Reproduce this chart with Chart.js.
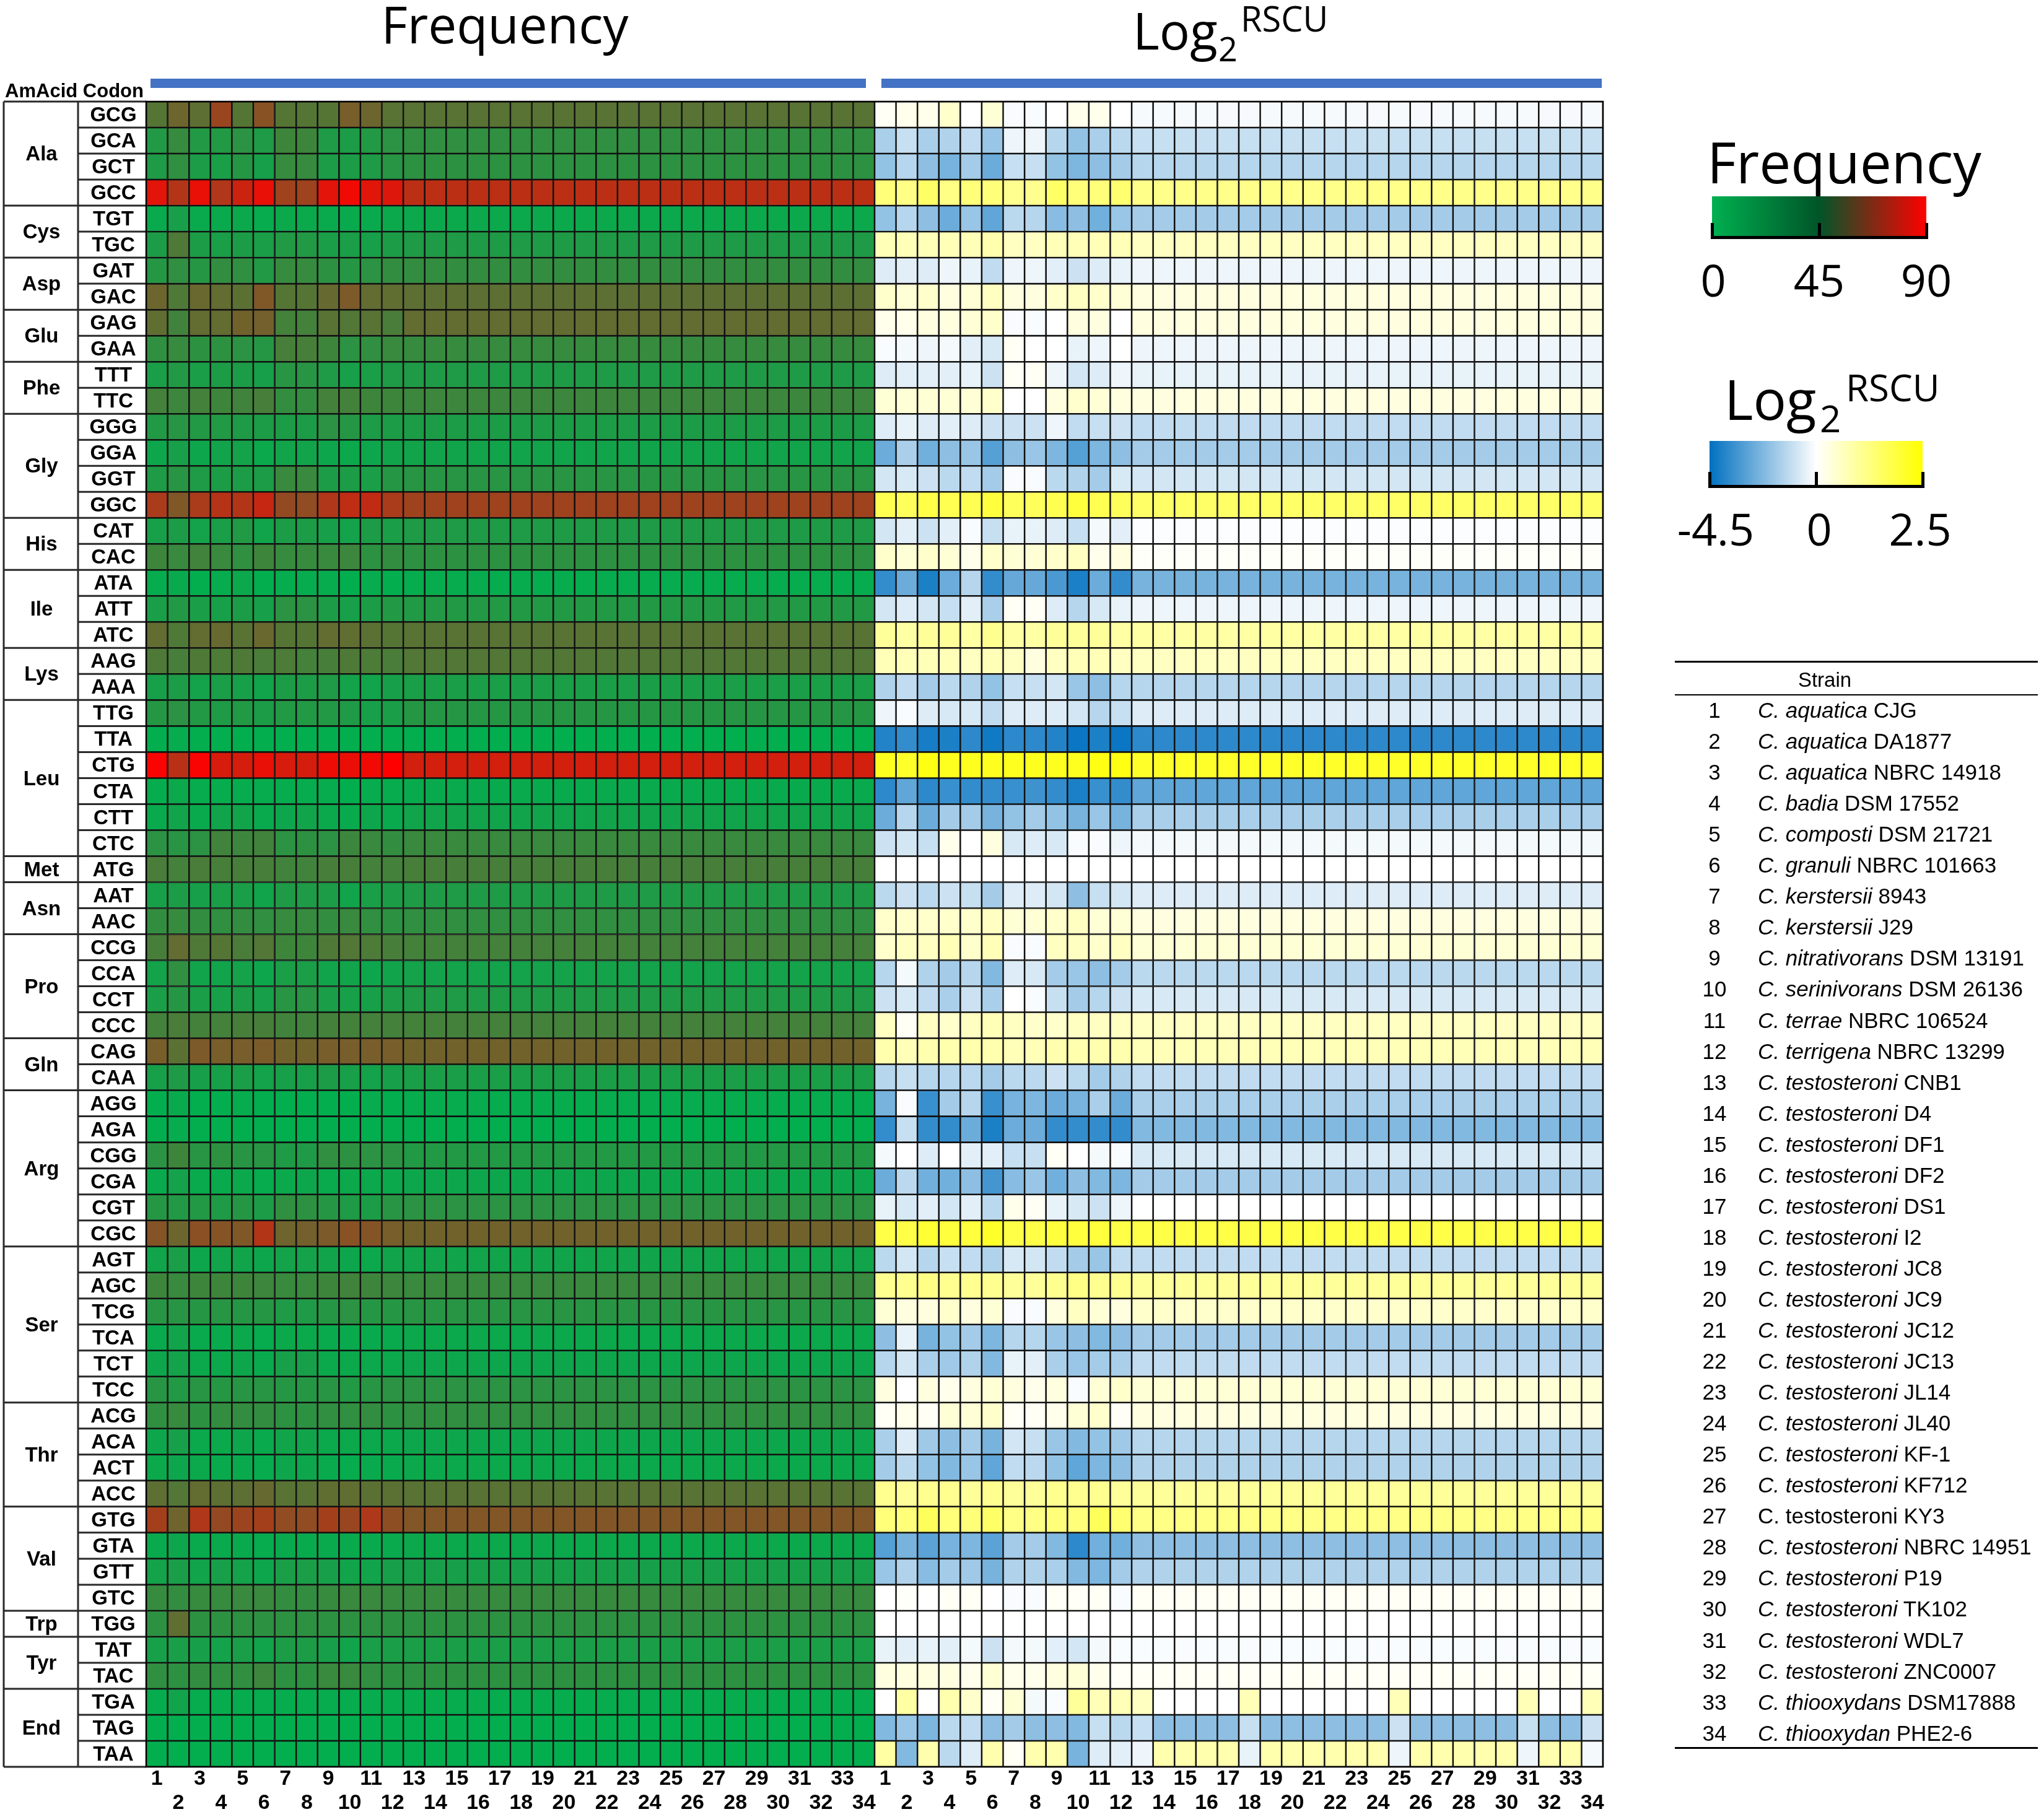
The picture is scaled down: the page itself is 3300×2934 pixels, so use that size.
<!DOCTYPE html>
<html><head><meta charset="utf-8">
<script src="https://cdn.jsdelivr.net/npm/chart.js"></script>
<style>
html,body{margin:0;padding:0;background:#fff;}
#page{position:relative;width:3300px;height:2934px;overflow:hidden;background:#fff;}
#wrap{position:absolute;left:0;top:0;width:2600px;height:2934px;}
#overlay{position:absolute;left:0;top:0;pointer-events:none;}
</style></head><body>
<div id="page">
<div id="wrap"><canvas id="c"></canvas></div>
<svg id="overlay" width="3300" height="2934" xmlns="http://www.w3.org/2000/svg"></svg>
</div>
<script>
// ---------------- DATA ----------------
const strainNumbers = [1,2,3,4,5,6,7,8,9,10,11,12,13,14,15,16,17,18,19,20,21,22,23,24,25,26,27,28,29,30,31,32,33,34];
const strainSpecies = ['C. aquatica','C. aquatica','C. aquatica','C. badia','C. composti','C. granuli','C. kerstersii','C. kerstersii','C. nitrativorans','C. serinivorans','C. terrae','C. terrigena','C. testosteroni','C. testosteroni','C. testosteroni','C. testosteroni','C. testosteroni','C. testosteroni','C. testosteroni','C. testosteroni','C. testosteroni','C. testosteroni','C. testosteroni','C. testosteroni','C. testosteroni','C. testosteroni','C. testosteroni','C. testosteroni','C. testosteroni','C. testosteroni','C. testosteroni','C. testosteroni','C. thiooxydans','C. thiooxydan'];
const strainIds = ['CJG','DA1877','NBRC 14918','DSM 17552','DSM 21721','NBRC 101663','8943','J29','DSM 13191','DSM 26136','NBRC 106524','NBRC 13299','CNB1','D4','DF1','DF2','DS1','I2','JC8','JC9','JC12','JC13','JL14','JL40','KF-1','KF712','KY3','NBRC 14951','P19','TK102','WDL7','ZNC0007','DSM17888','PHE2-6'];
const strainItalic = [1,1,1,1,1,1,1,1,1,1,1,1,1,1,1,1,1,1,1,1,1,1,1,1,1,1,0,1,1,1,1,1,1,1];

const aaNames = ['Ala','Cys','Asp','Glu','Phe','Gly','His','Ile','Lys','Leu','Met','Asn','Pro','Gln','Arg','Ser','Thr','Val','Trp','Tyr','End'];
const aaSizes = [4,2,2,2,2,4,2,3,2,6,1,2,4,2,6,6,4,4,1,2,3];
const codons = ['GCG','GCA','GCT','GCC','TGT','TGC','GAT','GAC','GAG','GAA','TTT','TTC','GGG','GGA','GGT','GGC','CAT','CAC','ATA','ATT','ATC','AAG','AAA','TTG','TTA','CTG','CTA','CTT','CTC','ATG','AAT','AAC','CCG','CCA','CCT','CCC','CAG','CAA','AGG','AGA','CGG','CGA','CGT','CGC','AGT','AGC','TCG','TCA','TCT','TCC','ACG','ACA','ACT','ACC','GTG','GTA','GTT','GTC','TGG','TAT','TAC','TGA','TAG','TAA'];

const freqLegendTicks = ['0','45','90'];
const rscuLegendTicks = ['-4.5','0','2.5'];
const freqRange = [0, 90];
const rscuRange = [-4.5, 2.5];

// Frequency (per codon, strains 1..34)
const fGCG = [30,38,33,54,30,48,30,30,30,42,38,31, 31,31,31,31,31,31,31,31,31,31,31, 31,31,31,31,31,31,31,31,31,31,31];
const fGCA = [12,19,12,12,15,11,22,22,11,10,12,15, 17,17,17,17,17,17,17,17,17,17,17, 17,17,17,17,17,17,17,17,17,17,17];
const fGCT = [11,17,10,9,13,8,19,19,10,10,11,14, 16,16,16,16,16,16,16,16,16,16,16, 16,16,16,16,16,16,16,16,16,16,16];
const fGCC = [80,63,82,62,72,82,56,56,80,85,79,78, 66,66,66,66,66,66,66,66,66,66,66, 66,66,66,66,66,66,66,66,66,66,66];
const fTGT = [3,8,3,3,4,2,4,4,3,3,3,4, 4,4,4,4,4,4,4,4,4,4,4, 4,4,4,4,4,4,4,4,4,4,4];
const fTGC = [10,28,10,9,10,9,12,12,9,9,8,10, 11,11,11,11,11,11,11,11,11,11,11, 11,11,11,11,11,11,11,11,11,11,11];
const fGAT = [13,17,13,18,17,12,19,19,16,13,15,18, 18,18,18,18,18,18,18,18,18,18,18, 18,18,18,18,18,18,18,18,18,18,18];
const fGAC = [38,28,37,35,32,45,30,30,36,44,35,34, 33,33,33,33,33,33,33,33,33,33,33, 33,33,33,33,33,33,33,33,33,33,33];
const fGAG = [34,23,35,35,40,41,24,24,31,29,31,26, 35,35,35,35,35,35,35,35,35,35,35, 35,35,35,35,35,35,35,35,35,35,35];
const fGAA = [17,19,16,16,15,13,25,25,22,15,17,20, 19,19,19,19,19,19,19,19,19,19,19, 19,19,19,19,19,19,19,19,19,19,19];
const fTTT = [9,12,9,10,10,8,14,14,11,8,9,11, 11,11,11,11,11,11,11,11,11,11,11, 11,11,11,11,11,11,11,11,11,11,11];
const fTTC = [24,21,24,22,23,25,18,18,24,24,22,22, 21,21,21,21,21,21,21,21,21,21,21, 21,21,21,21,21,21,21,21,21,21,21];
const fGGG = [12,14,12,12,11,10,10,10,15,13,10,10, 10,10,10,10,10,10,10,10,10,10,10, 10,10,10,10,10,10,10,10,10,10,10];
const fGGA = [5,8,5,6,7,4,6,6,5,4,5,6, 6,6,6,6,6,6,6,6,6,6,6, 6,6,6,6,6,6,6,6,6,6,6];
const fGGT = [11,14,11,10,10,10,20,20,10,10,9,13, 14,14,14,14,14,14,14,14,14,14,14, 14,14,14,14,14,14,14,14,14,14,14];
const fGGC = [60,45,60,64,63,70,52,51,62,67,68,60, 56,56,56,56,56,56,56,56,56,56,56, 56,56,56,56,56,56,56,56,56,56,56];
const fCAT = [8,10,7,9,12,6,10,10,8,7,10,9, 11,11,11,11,11,11,11,11,11,11,11, 11,11,11,11,11,11,11,11,11,11,11];
const fCAC = [22,20,23,20,17,22,19,19,20,21,16,18, 16,16,16,16,16,16,16,16,16,16,16, 16,16,16,16,16,16,16,16,16,16,16];
const fATA = [2,3,1,2,4,1,2,2,2,1,2,1, 2,2,2,2,2,2,2,2,2,2,2, 2,2,2,2,2,2,2,2,2,2,2];
const fATT = [9,12,9,8,10,8,15,15,10,8,10,12, 12,12,12,12,12,12,12,12,12,12,12, 12,12,12,12,12,12,12,12,12,12,12];
const fATC = [35,28,35,36,31,37,30,30,35,34,32,30, 31,31,31,31,31,31,31,31,31,31,31, 31,31,31,31,31,31,31,31,31,31,31];
const fAAG = [28,25,28,27,28,26,27,24,25,28,27,26, 29,29,29,29,29,29,29,29,29,29,29, 29,29,29,29,29,29,29,29,29,29,29];
const fAAA = [8,10,7,9,8,6,10,10,11,7,6,8, 9,9,9,9,9,9,9,9,9,9,9, 9,9,9,9,9,9,9,9,9,9,9];
const fTTG = [13,15,12,11,12,10,12,12,12,11,8,9, 13,13,13,13,13,13,13,13,13,13,13, 13,13,13,13,13,13,13,13,13,13,13];
const fTTA = [1,2,1,1,1,1,1,1,1,1,1,1, 1,1,1,1,1,1,1,1,1,1,1, 1,1,1,1,1,1,1,1,1,1,1];
const fCTG = [88,65,88,76,75,82,76,75,84,83,85,90, 74,74,74,74,74,74,74,74,74,74,74, 74,74,74,74,74,74,74,74,74,74,74];
const fCTA = [2,4,2,2,2,2,2,2,2,1,2,2, 3,3,3,3,3,3,3,3,3,3,3, 3,3,3,3,3,3,3,3,3,3,3];
const fCTT = [3,6,3,6,6,3,5,6,4,3,5,3, 6,6,6,6,6,6,6,6,6,6,6, 6,6,6,6,6,6,6,6,6,6,6];
const fCTC = [15,14,15,23,21,23,15,16,15,21,20,18, 20,20,20,20,20,20,20,20,20,20,20, 20,20,20,20,20,20,20,20,20,20,20];
const fATG = [26,24,26,25,25,25,23,23,25,25,24,24, 25,25,25,25,25,25,25,25,25,25,25, 25,25,25,25,25,25,25,25,25,25,25];
const fAAT = [8,10,8,9,9,6,11,11,10,6,9,10, 11,11,11,11,11,11,11,11,11,11,11, 11,11,11,11,11,11,11,11,11,11,11];
const fAAC = [18,19,18,17,18,17,19,19,18,20,17,16, 17,17,17,17,17,17,17,17,17,17,17, 17,17,17,17,17,17,17,17,17,17,17];
const fCCG = [25,35,28,30,26,29,22,22,28,29,27,25, 24,24,24,24,24,24,24,24,24,24,24, 24,24,24,24,24,24,24,24,24,24,24];
const fCCA = [7,17,6,6,7,5,9,9,6,6,5,6, 7,7,7,7,7,7,7,7,7,7,7, 7,7,7,7,7,7,7,7,7,7,7];
const fCCT = [9,13,9,8,10,8,14,14,9,8,8,10, 11,11,11,11,11,11,11,11,11,11,11, 11,11,11,11,11,11,11,11,11,11,11];
const fCCC = [24,26,24,24,25,25,23,23,24,24,24,24, 24,24,24,24,24,24,24,24,24,24,24, 24,24,24,24,24,24,24,24,24,24,24];
const fCAG = [42,32,44,42,42,43,40,40,42,42,42,42, 40,40,40,40,40,40,40,40,40,40,40, 40,40,40,40,40,40,40,40,40,40,40];
const fCAA = [8,11,8,8,9,7,8,8,10,8,7,8, 9,9,9,9,9,9,9,9,9,9,9, 9,9,9,9,9,9,9,9,9,9,9];
const fAGG = [1,3,1,1,2,1,1,1,1,1,2,1, 2,2,2,2,2,2,2,2,2,2,2, 2,2,2,2,2,2,2,2,2,2,2];
const fAGA = [1,2,1,1,1,1,1,1,1,1,1,1, 1,1,1,1,1,1,1,1,1,1,1, 1,1,1,1,1,1,1,1,1,1,1];
const fCGG = [15,22,14,16,14,14,11,11,17,16,15,15, 12,12,12,12,12,12,12,12,12,12,12, 12,12,12,12,12,12,12,12,12,12,12];
const fCGA = [3,7,3,3,4,2,4,5,3,4,4,4, 5,5,5,5,5,5,5,5,5,5,5, 5,5,5,5,5,5,5,5,5,5,5];
const fCGT = [13,12,12,11,13,10,17,16,13,11,10,14, 15,15,15,15,15,15,15,15,15,15,15, 15,15,15,15,15,15,15,15,15,15,15];
const fCGC = [47,38,49,47,45,63,39,41,44,48,47,42, 40,40,40,40,40,40,40,40,40,40,40, 40,40,40,40,40,40,40,40,40,40,40];
const fAGT = [6,9,5,6,6,5,7,7,6,5,4,6, 6,6,6,6,6,6,6,6,6,6,6, 6,6,6,6,6,6,6,6,6,6,6];
const fAGC = [22,20,22,22,22,21,20,20,22,23,22,21, 20,20,20,20,20,20,20,20,20,20,20, 20,20,20,20,20,20,20,20,20,20,20];
const fTCG = [14,14,13,14,13,13,11,11,13,15,13,13, 14,14,14,14,14,14,14,14,14,14,14, 14,14,14,14,14,14,14,14,14,14,14];
const fTCA = [3,6,3,3,4,2,4,4,3,3,3,3, 4,4,4,4,4,4,4,4,4,4,4, 4,4,4,4,4,4,4,4,4,4,4];
const fTCT = [5,7,4,4,5,3,8,8,4,4,4,4, 5,5,5,5,5,5,5,5,5,5,5, 5,5,5,5,5,5,5,5,5,5,5];
const fTCC = [14,12,14,13,14,14,13,13,14,12,14,15, 15,15,15,15,15,15,15,15,15,15,15, 15,15,15,15,15,15,15,15,15,15,15];
const fACG = [17,19,16,18,18,18,16,16,17,17,18,16, 17,17,17,17,17,17,17,17,17,17,17, 17,17,17,17,17,17,17,17,17,17,17];
const fACA = [5,8,4,4,5,3,6,6,4,4,4,4, 5,5,5,5,5,5,5,5,5,5,5, 5,5,5,5,5,5,5,5,5,5,5];
const fACT = [4,5,4,3,3,2,5,5,3,2,3,3, 4,4,4,4,4,4,4,4,4,4,4, 4,4,4,4,4,4,4,4,4,4,4];
const fACC = [33,29,35,33,33,36,31,31,34,34,32,32, 31,31,31,31,31,31,31,31,31,31,31, 31,31,31,31,31,31,31,31,31,31,31];
const fGTG = [58,39,62,52,55,58,51,51,58,54,61,50, 46,46,46,46,46,46,46,46,46,46,46, 46,46,46,46,46,46,46,46,46,46,46];
const fGTA = [3,5,3,3,3,2,3,3,3,3,3,3, 4,4,4,4,4,4,4,4,4,4,4, 4,4,4,4,4,4,4,4,4,4,4];
const fGTT = [7,9,6,8,7,5,9,9,8,6,6,8, 8,8,8,8,8,8,8,8,8,8,8, 8,8,8,8,8,8,8,8,8,8,8];
const fGTC = [19,18,19,19,20,20,18,18,19,20,20,19, 19,19,19,19,19,19,19,19,19,19,19, 19,19,19,19,19,19,19,19,19,19,19];
const fTGG = [16,34,16,16,16,16,16,16,16,16,16,16, 16,16,16,16,16,16,16,16,16,16,16, 16,16,16,16,16,16,16,16,16,16,16];
const fTAT = [8,9,8,7,9,6,10,10,8,6,9,9, 9,9,9,9,9,9,9,9,9,9,9, 9,9,9,9,9,9,9,9,9,9,9];
const fTAC = [17,16,18,17,17,21,16,16,20,20,17,16, 16,16,16,16,16,16,16,16,16,16,16, 16,16,16,16,16,16,16,16,16,16,16];
const fTGA = [2,6,2,2,2,2,2,2,2,2,2,2, 2,2,2,2,2,2,2,2,2,2,2, 2,2,2,2,2,2,2,2,2,2,2];
const fTAG = [1,1,1,1,1,1,1,1,1,1,1,1, 1,1,1,1,1,1,1,1,1,1,1, 1,1,1,1,1,1,1,1,1,1,1];
const fTAA = [1,1,1,1,1,1,1,1,1,1,1,1, 1,1,1,1,1,1,1,1,1,1,1, 1,1,1,1,1,1,1,1,1,1,1];

// Log2 RSCU (per codon, strains 1..34)
const rGCG = [0.1,0.2,0.2,0.5,0.0,0.4,-0.1,-0.1,0.0,0.2,0.2,0.0, -0.15,-0.15,-0.15,-0.15,-0.15,-0.15,-0.15,-0.15,-0.15,-0.15,-0.15, -0.15,-0.15,-0.15,-0.15,-0.15,-0.15,-0.15,-0.15,-0.15,-0.15,-0.15];
const rGCA = [-1.5,-1.0,-1.5,-1.4,-1.1,-1.8,-0.3,-0.3,-1.3,-1.9,-1.5,-1.2, -1.0,-1.0,-1.0,-1.0,-1.0,-1.0,-1.0,-1.0,-1.0,-1.0,-1.0, -1.0,-1.0,-1.0,-1.0,-1.0,-1.0,-1.0,-1.0,-1.0,-1.0,-1.0];
const rGCT = [-1.9,-1.3,-2.0,-2.4,-1.6,-2.6,-1.0,-1.0,-1.9,-2.3,-2.0,-1.6, -1.3,-1.3,-1.3,-1.3,-1.3,-1.3,-1.3,-1.3,-1.3,-1.3,-1.3, -1.3,-1.3,-1.3,-1.3,-1.3,-1.3,-1.3,-1.3,-1.3,-1.3,-1.3];
const rGCC = [1.3,1.2,1.5,1.2,1.3,1.3,1.1,1.1,1.5,1.3,1.3,1.4, 1.15,1.15,1.15,1.15,1.15,1.15,1.15,1.15,1.15,1.15,1.15, 1.15,1.15,1.15,1.15,1.15,1.15,1.15,1.15,1.15,1.15,1.15];
const rTGT = [-1.9,-1.3,-2.0,-2.6,-1.8,-2.8,-1.2,-1.3,-2.1,-2.0,-2.5,-1.8, -1.6,-1.6,-1.6,-1.6,-1.6,-1.6,-1.6,-1.6,-1.6,-1.6,-1.6, -1.6,-1.6,-1.6,-1.6,-1.6,-1.6,-1.6,-1.6,-1.6,-1.6,-1.6];
const rTGC = [0.7,0.7,0.7,0.7,0.7,0.8,0.6,0.6,0.7,0.7,0.7,0.7, 0.6,0.6,0.6,0.6,0.6,0.6,0.6,0.6,0.6,0.6,0.6, 0.6,0.6,0.6,0.6,0.6,0.6,0.6,0.6,0.6,0.6,0.6];
const rGAT = [-0.6,-0.5,-0.6,-0.3,-0.4,-1.1,-0.3,-0.3,-0.5,-0.9,-0.6,-0.4, -0.3,-0.3,-0.3,-0.3,-0.3,-0.3,-0.3,-0.3,-0.3,-0.3,-0.3, -0.3,-0.3,-0.3,-0.3,-0.3,-0.3,-0.3,-0.3,-0.3,-0.3,-0.3];
const rGAC = [0.5,0.4,0.5,0.3,0.4,0.6,0.3,0.3,0.5,0.6,0.5,0.4, 0.3,0.3,0.3,0.3,0.3,0.3,0.3,0.3,0.3,0.3,0.3, 0.3,0.3,0.3,0.3,0.3,0.3,0.3,0.3,0.3,0.3,0.3];
const rGAG = [0.2,0.2,0.3,0.3,0.4,0.5,-0.1,-0.1,0.0,0.3,0.3,0.0, 0.3,0.3,0.3,0.3,0.3,0.3,0.3,0.3,0.3,0.3,0.3, 0.3,0.3,0.3,0.3,0.3,0.3,0.3,0.3,0.3,0.3,0.3];
const rGAA = [-0.1,-0.2,-0.3,-0.2,-0.5,-0.7,0.1,0.0,0.0,-0.4,-0.3,0.0, -0.3,-0.3,-0.3,-0.3,-0.3,-0.3,-0.3,-0.3,-0.3,-0.3,-0.3, -0.3,-0.3,-0.3,-0.3,-0.3,-0.3,-0.3,-0.3,-0.3,-0.3,-0.3];
const rTTT = [-0.6,-0.5,-0.5,-0.5,-0.4,-0.9,0.1,0.1,-0.3,-0.8,-0.6,-0.3, -0.4,-0.4,-0.4,-0.4,-0.4,-0.4,-0.4,-0.4,-0.4,-0.4,-0.4, -0.4,-0.4,-0.4,-0.4,-0.4,-0.4,-0.4,-0.4,-0.4,-0.4,-0.4];
const rTTC = [0.4,0.4,0.4,0.4,0.4,0.5,0.0,0.0,0.3,0.5,0.4,0.3, 0.3,0.3,0.3,0.3,0.3,0.3,0.3,0.3,0.3,0.3,0.3, 0.3,0.3,0.3,0.3,0.3,0.3,0.3,0.3,0.3,0.3,0.3];
const rGGG = [-0.6,-0.4,-0.6,-0.5,-0.6,-0.9,-0.9,-0.9,-0.3,-1.1,-1.0,-0.9, -1.1,-1.1,-1.1,-1.1,-1.1,-1.1,-1.1,-1.1,-1.1,-1.1,-1.1, -1.1,-1.1,-1.1,-1.1,-1.1,-1.1,-1.1,-1.1,-1.1,-1.1,-1.1];
const rGGA = [-2.6,-1.5,-2.5,-2.0,-1.8,-3.0,-2.0,-1.8,-2.3,-3.0,-2.3,-2.0, -1.6,-1.6,-1.6,-1.6,-1.6,-1.6,-1.6,-1.6,-1.6,-1.6,-1.6, -1.6,-1.6,-1.6,-1.6,-1.6,-1.6,-1.6,-1.6,-1.6,-1.6,-1.6];
const rGGT = [-0.8,-0.7,-0.9,-1.2,-1.1,-1.6,-0.1,-0.1,-1.2,-1.4,-1.6,-0.7, -0.8,-0.8,-0.8,-0.8,-0.8,-0.8,-0.8,-0.8,-0.8,-0.8,-0.8, -0.8,-0.8,-0.8,-0.8,-0.8,-0.8,-0.8,-0.8,-0.8,-0.8,-0.8];
const rGGC = [1.7,1.6,1.8,1.7,1.7,1.9,1.6,1.6,1.7,1.9,1.7,1.6, 1.5,1.5,1.5,1.5,1.5,1.5,1.5,1.5,1.5,1.5,1.5, 1.5,1.5,1.5,1.5,1.5,1.5,1.5,1.5,1.5,1.5,1.5];
const rCAT = [-0.8,-0.5,-0.9,-0.5,-0.1,-1.0,-0.4,-0.4,-0.6,-1.0,-0.2,-0.5, -0.05,-0.05,-0.05,-0.05,-0.05,-0.05,-0.05,-0.05,-0.05,-0.05,-0.05, -0.05,-0.05,-0.05,-0.05,-0.05,-0.05,-0.05,-0.05,-0.05,-0.05,-0.05];
const rCAC = [0.5,0.4,0.5,0.4,0.2,0.5,0.4,0.4,0.5,0.6,0.2,0.3, 0.05,0.05,0.05,0.05,0.05,0.05,0.05,0.05,0.05,0.05,0.05, 0.05,0.05,0.05,0.05,0.05,0.05,0.05,0.05,0.05,0.05,0.05];
const rATA = [-3.6,-2.6,-4.0,-2.6,-1.3,-3.6,-2.7,-2.7,-3.2,-4.0,-2.6,-3.6, -2.4,-2.4,-2.4,-2.4,-2.4,-2.4,-2.4,-2.4,-2.4,-2.4,-2.4, -2.4,-2.4,-2.4,-2.4,-2.4,-2.4,-2.4,-2.4,-2.4,-2.4,-2.4];
const rATT = [-0.8,-0.6,-0.8,-1.0,-0.5,-1.5,0.1,0.1,-0.6,-1.3,-0.7,-0.4, -0.3,-0.3,-0.3,-0.3,-0.3,-0.3,-0.3,-0.3,-0.3,-0.3,-0.3, -0.3,-0.3,-0.3,-0.3,-0.3,-0.3,-0.3,-0.3,-0.3,-0.3,-0.3];
const rATC = [1.0,0.9,1.0,1.0,0.9,1.1,0.9,0.9,1.0,1.0,1.0,0.9, 0.9,0.9,0.9,0.9,0.9,0.9,0.9,0.9,0.9,0.9,0.9, 0.9,0.9,0.9,0.9,0.9,0.9,0.9,0.9,0.9,0.9,0.9];
const rAAG = [0.7,0.7,0.7,0.7,0.6,0.7,0.6,0.3,0.6,0.7,0.7,0.6, 0.6,0.6,0.6,0.6,0.6,0.6,0.6,0.6,0.6,0.6,0.6, 0.6,0.6,0.6,0.6,0.6,0.6,0.6,0.6,0.6,0.6,0.6];
const rAAA = [-1.4,-1.1,-1.6,-1.2,-1.4,-1.9,-1.0,-1.0,-0.8,-1.8,-2.0,-1.3, -1.3,-1.3,-1.3,-1.3,-1.3,-1.3,-1.3,-1.3,-1.3,-1.3,-1.3, -1.3,-1.3,-1.3,-1.3,-1.3,-1.3,-1.3,-1.3,-1.3,-1.3,-1.3];
const rTTG = [-0.3,-0.1,-0.6,-0.7,-0.7,-1.1,-0.6,-0.6,-0.6,-0.8,-1.3,-1.0, -0.6,-0.6,-0.6,-0.6,-0.6,-0.6,-0.6,-0.6,-0.6,-0.6,-0.6, -0.6,-0.6,-0.6,-0.6,-0.6,-0.6,-0.6,-0.6,-0.6,-0.6,-0.6];
const rTTA = [-3.9,-3.6,-4.1,-4.0,-3.7,-4.2,-3.7,-3.7,-3.9,-4.3,-4.0,-4.3, -3.7,-3.7,-3.7,-3.7,-3.7,-3.7,-3.7,-3.7,-3.7,-3.7,-3.7, -3.7,-3.7,-3.7,-3.7,-3.7,-3.7,-3.7,-3.7,-3.7,-3.7,-3.7];
const rCTG = [2.2,2.1,2.3,2.2,2.2,2.2,2.2,2.2,2.2,2.2,2.3,2.3, 2.1,2.1,2.1,2.1,2.1,2.1,2.1,2.1,2.1,2.1,2.1, 2.1,2.1,2.1,2.1,2.1,2.1,2.1,2.1,2.1,2.1,2.1];
const rCTA = [-3.7,-2.8,-3.7,-3.5,-3.6,-3.6,-3.5,-3.4,-3.6,-4.0,-3.5,-3.6, -2.8,-2.8,-2.8,-2.8,-2.8,-2.8,-2.8,-2.8,-2.8,-2.8,-2.8, -2.8,-2.8,-2.8,-2.8,-2.8,-2.8,-2.8,-2.8,-2.8,-2.8,-2.8];
const rCTT = [-2.6,-1.3,-2.6,-1.6,-1.6,-2.4,-1.9,-1.6,-1.9,-2.4,-1.8,-2.4, -1.5,-1.5,-1.5,-1.5,-1.5,-1.5,-1.5,-1.5,-1.5,-1.5,-1.5, -1.5,-1.5,-1.5,-1.5,-1.5,-1.5,-1.5,-1.5,-1.5,-1.5,-1.5];
const rCTC = [-0.9,-0.8,-1.0,0.2,0.0,0.3,-0.7,-0.6,-0.7,-0.1,-0.1,-0.3, -0.2,-0.2,-0.2,-0.2,-0.2,-0.2,-0.2,-0.2,-0.2,-0.2,-0.2, -0.2,-0.2,-0.2,-0.2,-0.2,-0.2,-0.2,-0.2,-0.2,-0.2,-0.2];
const rATG = [0,0,0,0,0,0,0,0,0,0,0,0, 0,0,0,0,0,0,0,0,0,0,0, 0,0,0,0,0,0,0,0,0,0,0];
const rAAT = [-1.2,-0.9,-1.2,-0.9,-1.0,-1.6,-0.6,-0.6,-0.8,-2.0,-1.0,-0.8, -0.6,-0.6,-0.6,-0.6,-0.6,-0.6,-0.6,-0.6,-0.6,-0.6,-0.6, -0.6,-0.6,-0.6,-0.6,-0.6,-0.6,-0.6,-0.6,-0.6,-0.6,-0.6];
const rAAC = [0.5,0.5,0.5,0.5,0.5,0.6,0.4,0.4,0.5,0.6,0.4,0.4, 0.3,0.3,0.3,0.3,0.3,0.3,0.3,0.3,0.3,0.3,0.3, 0.3,0.3,0.3,0.3,0.3,0.3,0.3,0.3,0.3,0.3,0.3];
const rCCG = [0.5,0.6,0.6,0.7,0.5,0.7,-0.1,-0.1,0.6,0.6,0.5,0.6, 0.4,0.4,0.4,0.4,0.4,0.4,0.4,0.4,0.4,0.4,0.4, 0.4,0.4,0.4,0.4,0.4,0.4,0.4,0.4,0.4,0.4,0.4];
const rCCA = [-1.3,-0.2,-1.4,-1.6,-1.3,-2.2,-0.6,-0.7,-1.6,-1.8,-2.0,-1.6, -1.2,-1.2,-1.2,-1.2,-1.2,-1.2,-1.2,-1.2,-1.2,-1.2,-1.2, -1.2,-1.2,-1.2,-1.2,-1.2,-1.2,-1.2,-1.2,-1.2,-1.2,-1.2];
const rCCT = [-0.9,-0.7,-1.1,-1.5,-0.9,-1.5,0.0,-0.1,-1.0,-1.6,-1.3,-0.9, -0.7,-0.7,-0.7,-0.7,-0.7,-0.7,-0.7,-0.7,-0.7,-0.7,-0.7, -0.7,-0.7,-0.7,-0.7,-0.7,-0.7,-0.7,-0.7,-0.7,-0.7,-0.7];
const rCCC = [0.6,0.1,0.6,0.5,0.6,0.7,0.6,0.5,0.5,0.6,0.6,0.6, 0.6,0.6,0.6,0.6,0.6,0.6,0.6,0.6,0.6,0.6,0.6, 0.6,0.6,0.6,0.6,0.6,0.6,0.6,0.6,0.6,0.6,0.6];
const rCAG = [0.8,0.7,0.8,0.8,0.8,0.8,0.7,0.7,0.8,0.8,0.8,0.8, 0.7,0.7,0.7,0.7,0.7,0.7,0.7,0.7,0.7,0.7,0.7, 0.7,0.7,0.7,0.7,0.7,0.7,0.7,0.7,0.7,0.7,0.7];
const rCAA = [-1.3,-1.0,-1.3,-1.3,-1.2,-1.6,-1.2,-1.2,-0.9,-1.2,-1.6,-1.4, -1.1,-1.1,-1.1,-1.1,-1.1,-1.1,-1.1,-1.1,-1.1,-1.1,-1.1, -1.1,-1.1,-1.1,-1.1,-1.1,-1.1,-1.1,-1.1,-1.1,-1.1,-1.1];
const rAGG = [-2.4,-0.1,-3.5,-1.6,-1.3,-3.5,-2.4,-2.3,-2.6,-2.4,-1.5,-2.6, -1.5,-1.5,-1.5,-1.5,-1.5,-1.5,-1.5,-1.5,-1.5,-1.5,-1.5, -1.5,-1.5,-1.5,-1.5,-1.5,-1.5,-1.5,-1.5,-1.5,-1.5,-1.5];
const rAGA = [-3.6,-1.0,-3.6,-3.6,-2.6,-4.0,-2.6,-2.6,-3.6,-3.6,-3.6,-3.6, -2.2,-2.2,-2.2,-2.2,-2.2,-2.2,-2.2,-2.2,-2.2,-2.2,-2.2, -2.2,-2.2,-2.2,-2.2,-2.2,-2.2,-2.2,-2.2,-2.2,-2.2,-2.2];
const rCGG = [-0.2,0.0,-0.6,0.0,-0.5,-0.5,-1.0,-1.0,0.1,0.0,-0.2,-0.1, -0.7,-0.7,-0.7,-0.7,-0.7,-0.7,-0.7,-0.7,-0.7,-0.7,-0.7, -0.7,-0.7,-0.7,-0.7,-0.7,-0.7,-0.7,-0.7,-0.7,-0.7,-0.7];
const rCGA = [-2.6,-1.2,-2.5,-2.5,-2.0,-3.3,-2.1,-1.8,-2.5,-2.0,-2.2,-2.3, -1.6,-1.6,-1.6,-1.6,-1.6,-1.6,-1.6,-1.6,-1.6,-1.6,-1.6, -1.6,-1.6,-1.6,-1.6,-1.6,-1.6,-1.6,-1.6,-1.6,-1.6,-1.6];
const rCGT = [-0.4,-0.7,-0.5,-0.8,-0.5,-1.2,0.2,0.1,-0.4,-0.7,-0.9,-0.3, 0,0,0,0,0,0,0,0,0,0,0, 0,0,0,0,0,0,0,0,0,0,0];
const rCGC = [1.8,1.8,2.0,1.9,1.9,2.1,1.8,1.8,1.9,1.9,1.9,1.8, 1.8,1.8,1.8,1.8,1.8,1.8,1.8,1.8,1.8,1.8,1.8, 1.8,1.8,1.8,1.8,1.8,1.8,1.8,1.8,1.8,1.8,1.8];
const rAGT = [-1.2,-0.8,-1.3,-1.0,-1.1,-1.4,-0.7,-0.8,-1.1,-1.6,-1.8,-1.1, -1.1,-1.1,-1.1,-1.1,-1.1,-1.1,-1.1,-1.1,-1.1,-1.1,-1.1, -1.1,-1.1,-1.1,-1.1,-1.1,-1.1,-1.1,-1.1,-1.1,-1.1,-1.1];
const rAGC = [1.1,1.1,1.2,1.1,1.1,1.1,1.0,1.0,1.1,1.2,1.1,1.1, 1.0,1.0,1.0,1.0,1.0,1.0,1.0,1.0,1.0,1.0,1.0, 1.0,1.0,1.0,1.0,1.0,1.0,1.0,1.0,1.0,1.0,1.0];
const rTCG = [0.4,0.3,0.3,0.5,0.3,0.4,-0.1,-0.1,0.3,0.6,0.4,0.3, 0.5,0.5,0.5,0.5,0.5,0.5,0.5,0.5,0.5,0.5,0.5, 0.5,0.5,0.5,0.5,0.5,0.5,0.5,0.5,0.5,0.5,0.5];
const rTCA = [-2.0,-0.4,-2.4,-1.9,-1.6,-2.3,-1.3,-1.3,-1.8,-2.0,-2.2,-2.0, -1.6,-1.6,-1.6,-1.6,-1.6,-1.6,-1.6,-1.6,-1.6,-1.6,-1.6, -1.6,-1.6,-1.6,-1.6,-1.6,-1.6,-1.6,-1.6,-1.6,-1.6,-1.6];
const rTCT = [-1.3,-0.8,-1.5,-1.7,-1.4,-2.2,-0.4,-0.5,-1.5,-1.8,-1.6,-1.5, -1.1,-1.1,-1.1,-1.1,-1.1,-1.1,-1.1,-1.1,-1.1,-1.1,-1.1, -1.1,-1.1,-1.1,-1.1,-1.1,-1.1,-1.1,-1.1,-1.1,-1.1,-1.1];
const rTCC = [0.3,0.0,0.3,0.2,0.3,0.4,0.3,0.2,0.3,-0.1,0.4,0.5, 0.4,0.4,0.4,0.4,0.4,0.4,0.4,0.4,0.4,0.4,0.4, 0.4,0.4,0.4,0.4,0.4,0.4,0.4,0.4,0.4,0.4,0.4];
const rACG = [0.1,0.2,0.1,0.4,0.4,0.5,0.1,0.1,0.2,0.4,0.5,0.1, 0.3,0.3,0.3,0.3,0.3,0.3,0.3,0.3,0.3,0.3,0.3, 0.3,0.3,0.3,0.3,0.3,0.3,0.3,0.3,0.3,0.3,0.3];
const rACA = [-1.5,-0.6,-1.7,-2.0,-1.6,-2.4,-0.8,-1.0,-1.8,-2.2,-1.9,-1.7, -1.3,-1.3,-1.3,-1.3,-1.3,-1.3,-1.3,-1.3,-1.3,-1.3,-1.3, -1.3,-1.3,-1.3,-1.3,-1.3,-1.3,-1.3,-1.3,-1.3,-1.3,-1.3];
const rACT = [-1.6,-1.2,-1.9,-2.2,-1.8,-2.8,-1.1,-1.2,-1.9,-2.8,-2.3,-2.0, -1.4,-1.4,-1.4,-1.4,-1.4,-1.4,-1.4,-1.4,-1.4,-1.4,-1.4, -1.4,-1.4,-1.4,-1.4,-1.4,-1.4,-1.4,-1.4,-1.4,-1.4,-1.4];
const rACC = [1.1,1.0,1.1,1.1,1.0,1.1,1.0,1.0,1.1,1.1,1.1,1.0, 1.0,1.0,1.0,1.0,1.0,1.0,1.0,1.0,1.0,1.0,1.0, 1.0,1.0,1.0,1.0,1.0,1.0,1.0,1.0,1.0,1.0,1.0];
const rGTG = [1.3,1.3,1.6,1.3,1.3,1.5,1.2,1.2,1.3,1.3,1.6,1.4, 1.2,1.2,1.2,1.2,1.2,1.2,1.2,1.2,1.2,1.2,1.2, 1.2,1.2,1.2,1.2,1.2,1.2,1.2,1.2,1.2,1.2,1.2];
const rGTA = [-3.0,-2.4,-2.9,-2.4,-2.3,-2.9,-1.6,-1.6,-2.2,-3.7,-2.5,-2.5, -2.0,-2.0,-2.0,-2.0,-2.0,-2.0,-2.0,-2.0,-2.0,-2.0,-2.0, -2.0,-2.0,-2.0,-2.0,-2.0,-2.0,-2.0,-2.0,-2.0,-2.0,-2.0];
const rGTT = [-1.8,-1.4,-2.1,-1.6,-1.7,-2.4,-1.4,-1.4,-1.5,-2.2,-2.3,-1.6, -1.4,-1.4,-1.4,-1.4,-1.4,-1.4,-1.4,-1.4,-1.4,-1.4,-1.4, -1.4,-1.4,-1.4,-1.4,-1.4,-1.4,-1.4,-1.4,-1.4,-1.4,-1.4];
const rGTC = [0.0,0.05,0.0,0.1,0.1,0.0,-0.1,-0.1,0.1,0.1,0.1,-0.1, 0.1,0.1,0.1,0.1,0.1,0.1,0.1,0.1,0.1,0.1,0.1, 0.1,0.1,0.1,0.1,0.1,0.1,0.1,0.1,0.1,0.1,0.1];
const rTGG = [0,0,0,0,0,0,0,0,0,0,0,0, 0,0,0,0,0,0,0,0,0,0,0, 0,0,0,0,0,0,0,0,0,0,0];
const rTAT = [-0.4,-0.5,-0.4,-0.5,-0.2,-0.9,-0.2,-0.2,-0.5,-0.8,-0.2,-0.1, -0.1,-0.1,-0.1,-0.1,-0.1,-0.1,-0.1,-0.1,-0.1,-0.1,-0.1, -0.1,-0.1,-0.1,-0.1,-0.1,-0.1,-0.1,-0.1,-0.1,-0.1,-0.1];
const rTAC = [0.3,0.3,0.3,0.3,0.2,0.4,0.2,0.2,0.3,0.4,0.2,0.1, 0.1,0.1,0.1,0.1,0.1,0.1,0.1,0.1,0.1,0.1,0.1, 0.1,0.1,0.1,0.1,0.1,0.1,0.1,0.1,0.1,0.1,0.1];
const rTGA = [0,0.9,0,0.8,0.5,0.1,0.4,-0.2,-0.1,1.0,0.7,0.7, 0.6,0,0,0,0,0.7,0,0,0,0,0, 0,0.7,0,0,0,0,0,0.7,0,0,0.7];
const rTAG = [-2.2,-1.8,-2.3,-1.2,-1.1,-2.0,-1.6,-2.0,-2.0,-2.2,-1.0,-1.2, -1.0,-2.0,-2.0,-2.0,-2.0,-1.0,-2.0,-2.0,-2.0,-2.0,-2.0, -2.0,-0.9,-2.0,-2.0,-2.0,-2.0,-2.0,-1.0,-2.0,-2.0,-0.9];
const rTAA = [0.9,-2.2,0.8,-1.2,-0.6,0.8,0.1,0.8,0.8,-2.4,-0.6,-0.5, -0.3,0.8,0.8,0.8,0.8,-0.4,0.8,0.8,0.8,0.8,0.8, 0.8,-0.3,0.8,0.8,0.8,0.8,0.8,-0.3,0.8,0.8,-0.2];

const freqRows = [fGCG,fGCA,fGCT,fGCC,fTGT,fTGC,fGAT,fGAC,fGAG,fGAA,fTTT,fTTC,fGGG,fGGA,fGGT,fGGC,fCAT,fCAC,fATA,fATT,fATC,fAAG,fAAA,fTTG,fTTA,fCTG,fCTA,fCTT,fCTC,fATG,fAAT,fAAC,fCCG,fCCA,fCCT,fCCC,fCAG,fCAA,fAGG,fAGA,fCGG,fCGA,fCGT,fCGC,fAGT,fAGC,fTCG,fTCA,fTCT,fTCC,fACG,fACA,fACT,fACC,fGTG,fGTA,fGTT,fGTC,fTGG,fTAT,fTAC,fTGA,fTAG,fTAA];
const rscuRows = [rGCG,rGCA,rGCT,rGCC,rTGT,rTGC,rGAT,rGAC,rGAG,rGAA,rTTT,rTTC,rGGG,rGGA,rGGT,rGGC,rCAT,rCAC,rATA,rATT,rATC,rAAG,rAAA,rTTG,rTTA,rCTG,rCTA,rCTT,rCTC,rATG,rAAT,rAAC,rCCG,rCCA,rCCT,rCCC,rCAG,rCAA,rAGG,rAGA,rCGG,rCGA,rCGT,rCGC,rAGT,rAGC,rTCG,rTCA,rTCT,rTCC,rACG,rACA,rACT,rACC,rGTG,rGTA,rGTT,rGTC,rTGG,rTAT,rTAC,rTGA,rTAG,rTAA];

// ---------------- COLOUR SCALES ----------------
function mix(a, b, t) { return a.map((v, i) => Math.round(v + (b[i] - v) * t)); }
function rgb(c) { return 'rgb(' + c.join(',') + ')'; }
const FREQ_LOW = [0,176,80], FREQ_HIGH = [255,0,0];
function freqColor(v) {
  const t = Math.max(0, Math.min(1, (v - freqRange[0]) / (freqRange[1] - freqRange[0])));
  return rgb(mix(FREQ_LOW, FREQ_HIGH, t));
}
const RSCU_LOW = [0,112,192], RSCU_MID = [255,255,255], RSCU_HIGH = [255,255,0];
function rscuColor(v) {
  if (v < 0) return rgb(mix(RSCU_MID, RSCU_LOW, Math.min(1, v / rscuRange[0])));
  return rgb(mix(RSCU_MID, RSCU_HIGH, Math.min(1, v / rscuRange[1])));
}

// ---------------- LABEL FONT ----------------
const LABEL_FAMILY = '"Liberation Sans", Arial, sans-serif';
const LABEL_SIZE = 33;
const labelCss = 'bold ' + LABEL_SIZE + 'px ' + LABEL_FAMILY;
const measureCtx = document.createElement('canvas').getContext('2d');
measureCtx.font = labelCss;
const widestCodon = Math.max(...codons.map(c => measureCtx.measureText(c).width));
const CODON_CENTER_X = 183, CODON_AXIS_RIGHT = 236;

// ---------------- CHART ----------------
const xLabels = strainNumbers.concat(strainNumbers).map(n => (n % 2 ? String(n) : ['', String(n)]));
const datasets = codons.map((codon, r) => ({
  label: codon,
  data: xLabels.map(() => [r, r + 1]),
  backgroundColor: freqRows[r].map(freqColor).concat(rscuRows[r].map(rscuColor)),
  borderColor: '#111',
  borderWidth: 1.6,
  borderSkipped: false,
  grouped: false,
  barPercentage: 1,
  categoryPercentage: 1
}));

const tickFont = {family: '"Liberation Sans", Arial, sans-serif', size: 34, weight: 'bold', lineHeight: 1.15};
const codonFont = {family: LABEL_FAMILY, size: LABEL_SIZE, weight: 'bold', lineHeight: 1.1};

const aaTablePlugin = {
  id: 'aaTable',
  afterDraw(chart) {
    const {ctx, chartArea: a, scales: {y}} = chart;
    const xL = 6, xM = 126, xR = a.left;
    ctx.save();
    ctx.strokeStyle = '#2a2a2a';
    ctx.lineWidth = 3;
    ctx.beginPath();
    for (let r = 0; r <= codons.length; r++) {
      const py = y.getPixelForValue(r);
      ctx.moveTo(xM, py); ctx.lineTo(xR, py);
    }
    let s = 0;
    ctx.moveTo(xL, y.getPixelForValue(0)); ctx.lineTo(xM, y.getPixelForValue(0));
    aaSizes.forEach(n => { s += n; const py = y.getPixelForValue(s); ctx.moveTo(xL, py); ctx.lineTo(xM, py); });
    ctx.moveTo(xL, y.getPixelForValue(0)); ctx.lineTo(xL, y.getPixelForValue(codons.length));
    ctx.moveTo(xM, y.getPixelForValue(0)); ctx.lineTo(xM, y.getPixelForValue(codons.length));
    ctx.stroke();
    ctx.fillStyle = '#000';
    ctx.font = labelCss;
    ctx.textAlign = 'center';
    ctx.textBaseline = 'middle';
    s = 0;
    aaNames.forEach((name, g) => {
      ctx.fillText(name, 67, y.getPixelForValue(s + aaSizes[g] / 2) + 2);
      s += aaSizes[g];
    });
    ctx.strokeStyle = '#000';
    ctx.lineWidth = 2.5;
    ctx.strokeRect(a.left, a.top, a.right - a.left, a.bottom - a.top);
    ctx.restore();
  }
};

new Chart(document.getElementById('c'), {
  type: 'bar',
  data: {labels: xLabels, datasets},
  options: {
    responsive: true,
    maintainAspectRatio: false,
    animation: false,
    events: [],
    layout: {padding: {left: 126, right: 12, top: 164, bottom: 0}},
    plugins: {legend: {display: false}, tooltip: {enabled: false}, title: {display: false}},
    scales: {
      x: {
        type: 'category', offset: true,
        grid: {display: false, drawTicks: false}, border: {display: false},
        ticks: {autoSkip: false, maxRotation: 0, minRotation: 0, padding: 0, color: '#000', font: tickFont},
        afterFit: s => { s.height = 81; }
      },
      y: {
        type: 'linear', min: 0, max: codons.length, reverse: true,
        grid: {display: false, drawTicks: false}, border: {display: false},
        afterBuildTicks: s => { s.ticks = codons.map((c, i) => ({value: i + 0.5})); },
        ticks: {autoSkip: false, padding: CODON_AXIS_RIGHT - CODON_CENTER_X - widestCodon / 2,
                crossAlign: 'center', labelOffset: 2, color: '#000', font: codonFont,
                callback: (v, i) => codons[i]},
        afterFit: s => { s.width = 110; }
      }
    }
  },
  plugins: [aaTablePlugin]
});

// ---------------- OVERLAY (titles, legends, strain table) ----------------
const NS = 'http://www.w3.org/2000/svg';
const svg = document.getElementById('overlay');
function el(tag, attrs, text, parent) {
  const e = document.createElementNS(NS, tag);
  for (const k in attrs) e.setAttribute(k, attrs[k]);
  if (text !== undefined && text !== null) e.textContent = text;
  (parent || svg).appendChild(e);
  return e;
}
const SANS = "'Open Sans', 'Noto Sans', sans-serif";
const ARIAL = "'Liberation Sans', Arial, sans-serif";

const defs = el('defs', {});
const g1 = el('linearGradient', {id: 'gFreq', x1: '0', x2: '1', y1: '0', y2: '0'}, null, defs);
el('stop', {offset: '0', 'stop-color': 'rgb(0,176,80)'}, null, g1);
el('stop', {offset: '0.5', 'stop-color': 'rgb(0,85,40)'}, null, g1);
el('stop', {offset: '1', 'stop-color': 'rgb(255,0,0)'}, null, g1);
const g2 = el('linearGradient', {id: 'gRscu', x1: '0', x2: '1', y1: '0', y2: '0'}, null, defs);
el('stop', {offset: '0', 'stop-color': 'rgb(0,112,192)'}, null, g2);
el('stop', {offset: '0.5', 'stop-color': 'rgb(255,255,255)'}, null, g2);
el('stop', {offset: '1', 'stop-color': 'rgb(255,255,0)'}, null, g2);

// header bars & titles
el('rect', {x: 243, y: 127, width: 1155, height: 15, fill: '#4472C4'});
el('rect', {x: 1423, y: 127, width: 1163, height: 15, fill: '#4472C4'});
el('text', {x: 815, y: 70, 'text-anchor': 'middle', 'font-family': SANS, 'font-size': 82, fill: '#000'}, 'Frequency');
el('text', {x: 1829, y: 80, 'font-family': SANS, 'font-size': 82, fill: '#000'}, 'Log');
el('text', {x: 1967, y: 99, 'font-family': SANS, 'font-size': 54, fill: '#000'}, '2');
el('text', {x: 2003, y: 51, 'font-family': SANS, 'font-size': 56, fill: '#000'}, 'RSCU');
el('text', {x: 8, y: 157, 'font-family': ARIAL, 'font-weight': 'bold', 'font-size': 32, fill: '#000',
            textLength: 224, lengthAdjust: 'spacingAndGlyphs'}, 'AmAcid Codon');

// frequency legend
el('text', {x: 2756, y: 296, 'font-family': SANS, 'font-size': 91, fill: '#000'}, 'Frequency');
el('rect', {x: 2764, y: 317, width: 346, height: 66, fill: 'url(#gFreq)'});
el('rect', {x: 2762, y: 381, width: 351, height: 5, fill: '#000'});
[2762, 2935, 3108].forEach(x => el('rect', {x, y: 360, width: 5, height: 26, fill: '#000'}));
[2766, 2937, 3110].forEach((x, i) => el('text', {x, y: 479, 'text-anchor': 'middle', 'font-family': SANS, 'font-size': 72, fill: '#000'}, freqLegendTicks[i]));

// log2 rscu legend
el('text', {x: 2784, y: 678, 'font-family': SANS, 'font-size': 89, fill: '#000'}, 'Log');
el('text', {x: 2938, y: 698, 'font-family': SANS, 'font-size': 60, fill: '#000'}, '2');
el('text', {x: 2980, y: 648, 'font-family': SANS, 'font-size': 60, fill: '#000'}, 'RSCU');
el('rect', {x: 2760, y: 712, width: 344, height: 73, fill: 'url(#gRscu)'});
el('rect', {x: 2758, y: 783, width: 349, height: 5, fill: '#000'});
[2758, 2930, 3102].forEach(x => el('rect', {x, y: 762, width: 5, height: 26, fill: '#000'}));
[2770, 2937, 3100].forEach((x, i) => el('text', {x, y: 881, 'text-anchor': 'middle', 'font-family': SANS, 'font-size': 72, fill: '#000'}, rscuLegendTicks[i]));

// strain table
const TX = 2704;
el('rect', {x: TX, y: 1067, width: 586, height: 3, fill: '#000'});
el('text', {x: 2946, y: 1109, 'text-anchor': 'middle', 'font-family': ARIAL, 'font-size': 33, fill: '#000'}, 'Strain');
el('rect', {x: TX, y: 1121, width: 586, height: 2, fill: '#000'});
strainNumbers.forEach((n, i) => {
  const yb = 1159 + i * 50.05;
  el('text', {x: 2768, y: yb, 'text-anchor': 'middle', 'font-family': ARIAL, 'font-size': 35, fill: '#000'}, String(n));
  const t = el('text', {x: 2838, y: yb, 'font-family': ARIAL, 'font-size': 35, fill: '#000', style: 'white-space:pre'});
  el('tspan', strainItalic[i] ? {'font-style': 'italic'} : {}, strainSpecies[i], t);
  el('tspan', {}, ' ' + strainIds[i], t);
});
el('rect', {x: TX, y: 2821, width: 586, height: 3, fill: '#000'});
</script>
</body></html>
